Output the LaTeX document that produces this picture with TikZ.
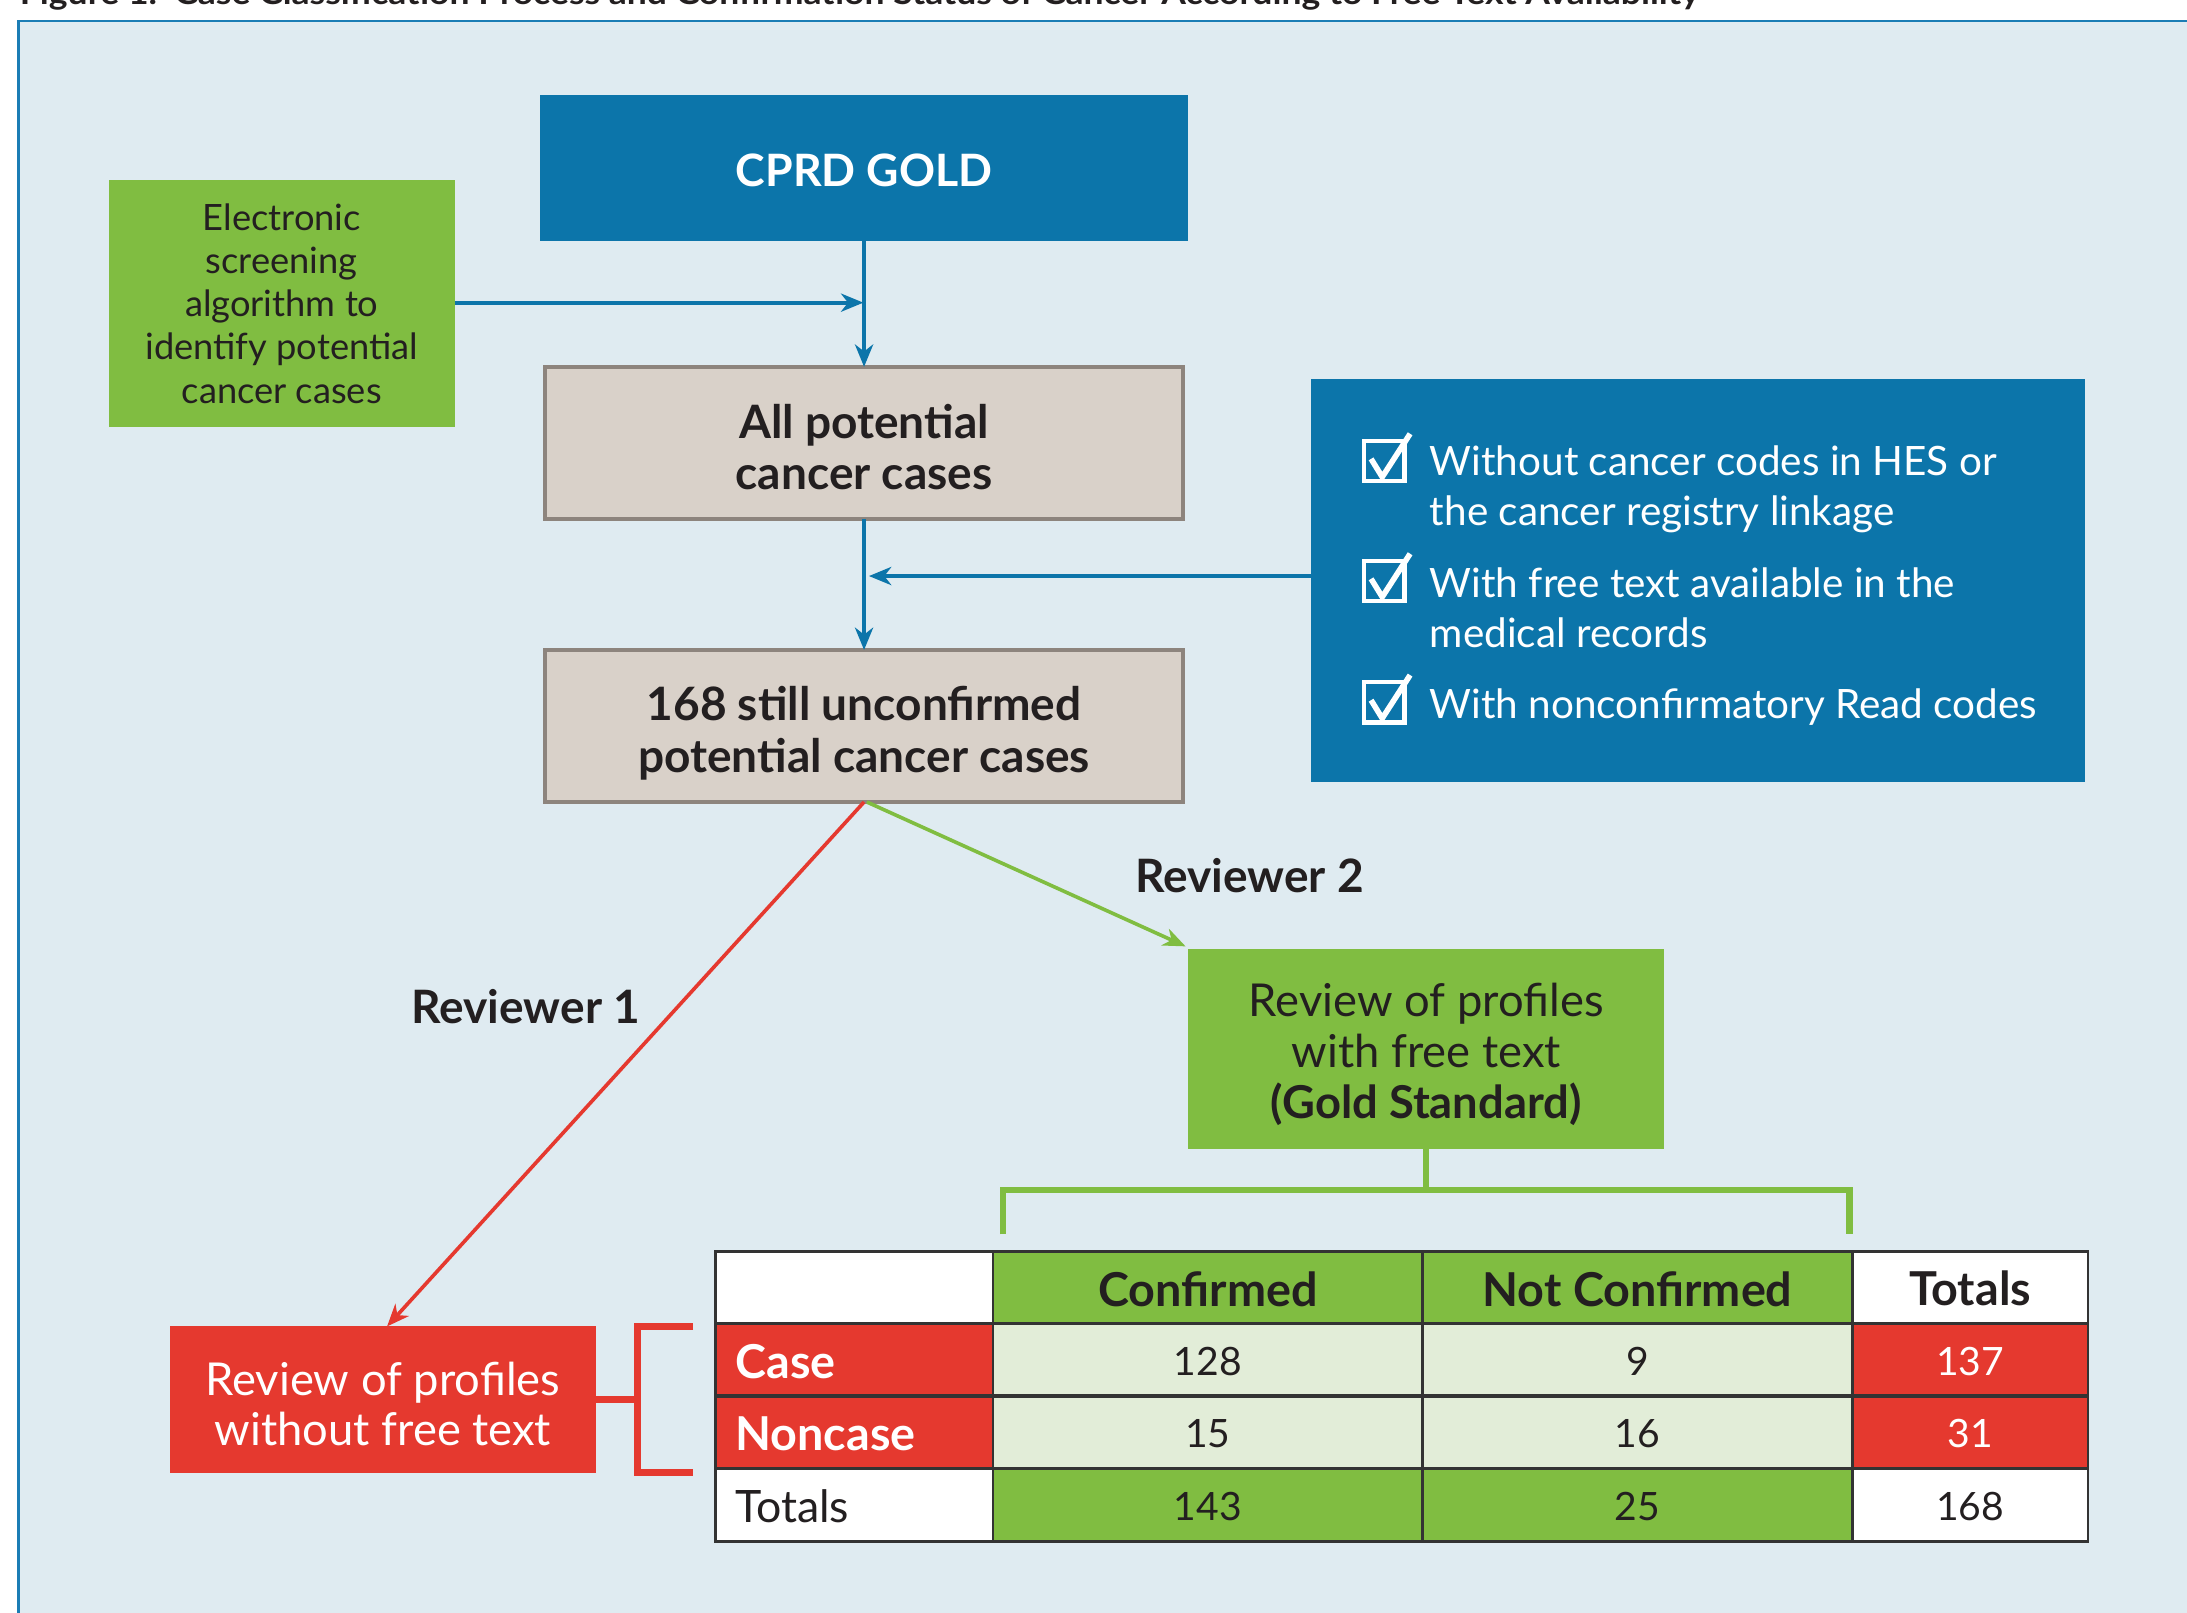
\documentclass[tikz,border=0pt]{standalone}
\usepackage{fontspec}
\setmainfont{Lato}
\usetikzlibrary{arrows.meta}
\definecolor{bgblue}{HTML}{DFEBF1}
\definecolor{frameblue}{HTML}{1B7DB5}
\definecolor{cprdblue}{HTML}{0C75AA}
\definecolor{mygreen}{HTML}{80BD41}
\definecolor{beige}{HTML}{D9D1C9}
\definecolor{beigeborder}{HTML}{8D847D}
\definecolor{myred}{HTML}{E5392F}
\definecolor{lightgreen}{HTML}{E2EDD8}
\definecolor{txt}{HTML}{231F20}
\definecolor{gridc}{HTML}{333333}
\tikzset{
  box/.style={rectangle, inner sep=0pt, outer sep=0pt, align=center},
  boxtext/.style={inner sep=0pt, align=center},
  bluearrow/.style={draw=cprdblue, line width=3pt, -{Stealth[length=16pt,width=13pt,inset=5pt]}},
  redarrow/.style={draw=myred, line width=2.6pt, -{Stealth[length=16pt,width=13pt,inset=5pt]}},
  greenarrow/.style={draw=mygreen, line width=2.6pt, -{Stealth[length=16pt,width=13pt,inset=5pt]}},
  celltext/.style={inner sep=0pt, font=\fontsize{28}{30}\selectfont},
  cellbold/.style={inner sep=0pt, font=\fontsize{33.5}{35}\selectfont\bfseries},
  checktext/.style={inner sep=0pt, anchor=west, align=left, text=white, font=\fontsize{29}{36}\selectfont},
}
\begin{document}
\begin{tikzpicture}[x=1pt,y=-1pt]
\useasboundingbox (0,0) rectangle (1568,1156);
\clip (0,0) rectangle (1568,1156);
\fill[white] (0,0) rectangle (1568,1156);
% frame
\fill[bgblue] (13,15) rectangle (1580,1170);
\draw[frameblue, line width=2pt] (13,1170) -- (13,15) -- (1580,15);
% title (cut off at top, as in the reference)
\node[anchor=base west, inner sep=0pt, text=txt] (title) at (14,3)
  {\resizebox{1204pt}{17pt}{\bfseries Figure 1.\ \ Case Classification Process and Confirmation Status of Cancer According to Free Text Availability}};

% boxes
\node[box, fill=cprdblue, minimum width=465pt, minimum height=105pt] (cprd) at (619.5,120.5) {};
\node[boxtext, text=white, font=\fontsize{32}{36}\selectfont\bfseries] (cprdT) at ([yshift=-2pt]cprd.center) {CPRD GOLD};
\node[box, fill=mygreen, minimum width=248pt, minimum height=177pt, text=txt,
  font=\fontsize{26}{31}\selectfont] (elec) at (202,217.5)
  {Electronic\\screening\\algorithm to\\identify potential\\cancer cases};
\node[box, fill=beige, draw=beigeborder, line width=3pt, minimum width=457pt, minimum height=109pt] (allpot) at (619.5,317.5) {};
\node[boxtext, text=txt, font=\fontsize{33}{37}\selectfont\bfseries] (allpotT) at ([yshift=-3pt]allpot.center)
  {All potential\\cancer cases};
\node[box, fill=beige, draw=beigeborder, line width=3pt, minimum width=457pt, minimum height=109pt] (unconf) at (619.5,520.5) {};
\node[boxtext, text=txt, font=\fontsize{33}{37}\selectfont\bfseries] (unconfT) at ([yshift=-5pt]unconf.center)
  {168 still unconfirmed\\potential cancer cases};
\node[box, fill=cprdblue, minimum width=555pt, minimum height=289pt] (check) at (1217.5,416.5) {};
\node[box, fill=mygreen, minimum width=341pt, minimum height=143pt] (revg) at (1022.5,752) {};
\node[boxtext, text=txt, font=\fontsize{32.5}{36.5}\selectfont] (revgT) at ([yshift=-4pt]revg.center)
  {Review of profiles\\with free text\\\textbf{(Gold Standard)}};
\node[box, fill=myred, minimum width=305pt, minimum height=105pt] (revr) at (274.5,1003.5) {};
\node[boxtext, text=white, font=\fontsize{32.5}{36}\selectfont] (revrT) at ([yshift=-3pt]revr.center)
  {Review of profiles\\without free text};

% checklist texts
\node[checktext] (c1) at (1025,351) {Without cancer codes in HES or\\the cancer registry linkage};
\node[checktext] (c2) at (1025,436) {With free text available in the\\medical records};
\node[checktext] (c3) at (1025,507) {With nonconfirmatory Read codes};
\foreach \yy in {330,416,503}{
  \draw[white, line width=3pt] (978,\yy-14) rectangle (1007,\yy+15);
  \draw[white, line width=4pt, line join=miter] (983,\yy-1) -- (991,\yy+12) -- (1011,\yy-19);
}

% reviewer labels
\node[inner sep=0pt, text=txt, font=\fontsize{33}{35}\selectfont\bfseries] (rev2) at (896,628) {Reviewer 2};
\node[inner sep=0pt, text=txt, font=\fontsize{33}{35}\selectfont\bfseries] (rev1) at (377,722) {Reviewer 1};

% connectors
\coordinate (j1) at (619,217);
\coordinate (j2) at (623,413);
\draw[bluearrow] (cprd.south) -- (allpot.north);
\draw[bluearrow] (elec.east |- j1) -- (j1);
\draw[bluearrow] (allpot.south) -- (unconf.north);
\draw[bluearrow] (check.west |- j2) -- (j2);
\draw[redarrow] (unconf.south) -- ([xshift=3pt]revr.north);
\draw[greenarrow] ([xshift=2pt]unconf.south) -- ([shift={(-2pt,2pt)}]revg.north west);

% green bracket
\coordinate (gbl) at (719,885);
\coordinate (gbr) at (1326,885);
\draw[mygreen, line width=4.5pt] (revg.south) -- (revg.south |- 0,853);
\draw[mygreen, line width=4.5pt, line join=miter] (gbl) -- (719,853) -- (1326,853) -- (gbr);
% red bracket
\draw[myred, line width=5pt] (revr.east) -- (457,1003.5);
\draw[myred, line width=5pt, line join=miter] (497,951) -- (457,951) -- (457,1056) -- (497,1056);

% table
\def\xa{513}\def\xb{712}\def\xc{1020}\def\xd{1328}\def\xe{1497}
\def\ya{897}\def\yb{949}\def\yc{1001}\def\yd{1053}\def\ye{1105}
\fill[white] (\xa,\ya) rectangle (\xe,\ye);
\fill[mygreen] (\xb,\ya) rectangle (\xd,\yb);
\fill[mygreen] (\xb,\yd) rectangle (\xd,\ye);
\fill[myred] (\xa,\yb) rectangle (\xb,\yd);
\fill[myred] (\xd,\yb) rectangle (\xe,\yd);
\fill[lightgreen] (\xb,\yb) rectangle (\xd,\yd);
\draw[gridc, line width=2pt] (\xa,\ya) rectangle (\xe,\ye);
\foreach \xx in {\xb,\xc,\xd} \draw[gridc, line width=2pt] (\xx,\ya) -- (\xx,\ye);
\foreach \yy in {\yb,\yc,\yd} \draw[gridc, line width=2.5pt] (\xa,\yy) -- (\xe,\yy);

\node[cellbold, text=txt] (hconf) at (866,924) {Confirmed};
\node[cellbold, text=txt] (hnconf) at (1174,924) {Not Confirmed};
\node[cellbold, text=txt] (htot) at (1412.5,924) {Totals};
\node[cellbold, anchor=west, text=white] (lcase) at (527,976) {Case};
\node[cellbold, anchor=west, text=white] (lnon) at (527,1028) {Noncase};
\node[celltext, anchor=west, text=txt, font=\fontsize{32}{34}\selectfont] (ltot) at (527,1080) {Totals};
\node[celltext, text=txt] (v11) at (866,976) {128};
\node[celltext, text=txt] (v12) at (1174,976) {9};
\node[celltext, text=white] (v13) at (1412.5,976) {137};
\node[celltext, text=txt] (v21) at (866,1028) {15};
\node[celltext, text=txt] (v22) at (1174,1028) {16};
\node[celltext, text=white] (v23) at (1412.5,1028) {31};
\node[celltext, text=txt] (v31) at (866,1080) {143};
\node[celltext, text=txt] (v32) at (1174,1080) {25};
\node[celltext, text=txt] (v33) at (1412.5,1080) {168};
\end{tikzpicture}
\end{document}
